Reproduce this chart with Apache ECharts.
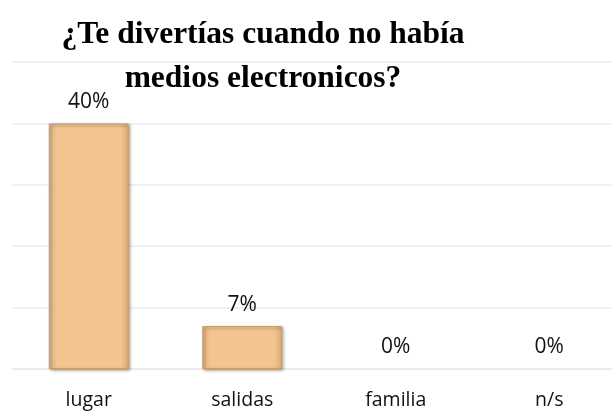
<!DOCTYPE html>
<html>
<head>
<meta charset="utf-8">
<script src="https://cdn.jsdelivr.net/npm/echarts@6/dist/echarts.min.js"></script>
<style>html,body{margin:0;padding:0;background:#fff}#c{width:612px;height:417px}</style>
</head>
<body>
<div id="c"></div>
<script>
const titleText = '¿Te divertías cuando no había\nmedios electronicos?';
const categories = ['lugar', 'salidas', 'familia', 'n/s'];
const values = [0.40, 0.07, 0, 0];
const yTicks = [0, 0.1, 0.2, 0.3, 0.4, 0.5];

const barStyle = {
  color: {
    type: 'linear', x: 0, y: 0, x2: 1, y2: 0,
    colorStops: [
      {offset: 0, color: '#DDB07C'},
      {offset: 0.1, color: '#F2C48E'},
      {offset: 0.9, color: '#F2C48E'},
      {offset: 1, color: '#D8AA76'}
    ]
  },
  borderColor: '#C99C69',
  borderWidth: 1,
  shadowBlur: 3,
  shadowColor: 'rgba(0,0,0,0.35)',
  shadowOffsetX: 1.5,
  shadowOffsetY: 1.5
};

const seriesData = values.map(v => v === 0
  ? {value: v, itemStyle: {color: 'rgba(0,0,0,0)', borderWidth: 0, shadowBlur: 0, shadowColor: 'rgba(0,0,0,0)'}}
  : {value: v});

const chart = echarts.init(document.getElementById('c'), null, {renderer: 'canvas'});
chart.setOption({
  backgroundColor: '#ffffff',
  animation: false,
  title: {
    text: titleText,
    left: 258,
    top: 8,
    textAlign: 'center',
    textStyle: {
      fontFamily: '"Liberation Serif", "Times New Roman", serif',
      fontWeight: 'bold',
      fontSize: 31.5,
      lineHeight: 44,
      color: '#000000'
    }
  },
  grid: {left: 12, width: 614, top: 62, bottom: 48, containLabel: false, outerBoundsMode: 'none'},
  xAxis: {
    type: 'category',
    data: categories,
    axisLine: {show: true, lineStyle: {color: '#EDE8F0', width: 1.5}},
    axisTick: {show: false},
    axisLabel: {
      margin: 21,
      fontFamily: '"Open Sans", sans-serif',
      fontSize: 19.5,
      color: '#111111'
    }
  },
  yAxis: {
    type: 'value',
    min: yTicks[0],
    max: yTicks[yTicks.length - 1],
    interval: 0.1,
    axisLine: {show: false},
    axisTick: {show: false},
    axisLabel: {show: false},
    splitLine: {lineStyle: {color: '#EDE8F0', width: 1.5}}
  },
  series: [{
    type: 'bar',
    data: seriesData,
    barWidth: 80,
    z: 3,
    clip: false,
    itemStyle: barStyle,
    label: {
      show: true,
      position: 'top',
      distance: 11,
      fontFamily: '"Open Sans", sans-serif',
      fontSize: 21,
      color: '#111111',
      formatter: p => Math.round(p.value * 100) + '%'
    }
  }]
});
</script>
</body>
</html>
